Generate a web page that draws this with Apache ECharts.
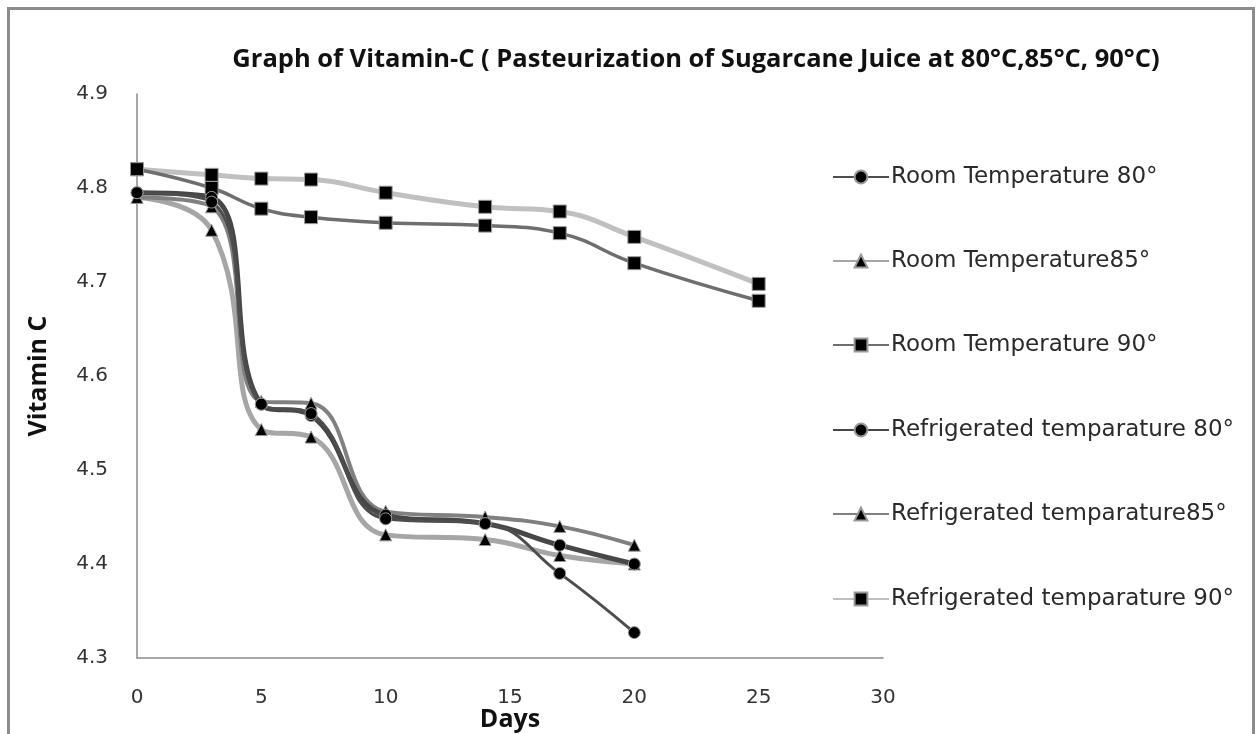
<!DOCTYPE html>
<html>
<head>
<meta charset="utf-8">
<script src="https://cdn.jsdelivr.net/npm/echarts@6/dist/echarts.min.js"></script>
<style>
html,body{margin:0;padding:0;background:#fff;}
#chart{width:1258px;height:734px;}
</style>
</head>
<body>
<div id="chart"></div>
<script>
// ---- data ----
const daysShort = [0, 3, 5, 7, 10, 14, 17, 20];
const daysLong = [0, 3, 5, 7, 10, 14, 17, 20, 25];
const room80 = [4.795, 4.785, 4.570, 4.560, 4.448, 4.443, 4.390, 4.327];
const room85 = [4.790, 4.755, 4.543, 4.535, 4.431, 4.426, 4.409, 4.400];
const room90 = [4.820, 4.800, 4.778, 4.769, 4.763, 4.760, 4.752, 4.720, 4.680];
const refrig80 = [4.795, 4.790, 4.570, 4.558, 4.452, 4.443, 4.420, 4.400];
const refrig85 = [4.790, 4.780, 4.573, 4.571, 4.456, 4.450, 4.440, 4.420];
const refrig90 = [4.820, 4.814, 4.810, 4.809, 4.795, 4.780, 4.775, 4.748, 4.698];
const seriesNames = [
  'Room Temperature 80°',
  'Room Temperature85°',
  'Room Temperature 90°',
  'Refrigerated temparature 80°',
  'Refrigerated temparature85°',
  'Refrigerated temparature 90°'
];
const xTicks = [0, 5, 10, 15, 20, 25, 30];
const yTicks = [4.3, 4.4, 4.5, 4.6, 4.7, 4.8, 4.9];
const titleText = 'Graph of Vitamin-C ( Pasteurization of Sugarcane Juice at 80°C,85°C, 90°C)';

function pairs(xs, ys) { return ys.map((v, i) => [xs[i], v]); }

const styles = [
  {color: '#4d4d4d', width: 3,   symbol: 'circle',   size: 12},
  {color: '#a6a6a6', width: 5,   symbol: 'triangle', size: 12},
  {color: '#6e6e6e', width: 3.5, symbol: 'rect',     size: 13},
  {color: '#474747', width: 5,   symbol: 'circle',   size: 12},
  {color: '#808080', width: 4,   symbol: 'triangle', size: 12},
  {color: '#c0c0c0', width: 5,   symbol: 'rect',     size: 13}
];
const dataSets = [
  pairs(daysShort, room80),
  pairs(daysShort, room85),
  pairs(daysLong, room90),
  pairs(daysShort, refrig80),
  pairs(daysShort, refrig85),
  pairs(daysLong, refrig90)
];
const drawOrder = [5, 2, 1, 4, 3, 0];

const series = drawOrder.map(i => ({
  name: seriesNames[i],
  type: 'line',
  data: dataSets[i],
  smooth: 0.45,
  symbol: styles[i].symbol,
  symbolSize: styles[i].size,
  showAllSymbol: true,
  lineStyle: {color: styles[i].color, width: styles[i].width},
  itemStyle: {color: '#000', borderColor: '#9a9a9a', borderWidth: 1},
  emphasis: {disabled: true},
  animation: false
}));

const legendCenters = [172, 256, 340, 425, 509, 594];
const legends = seriesNames.map((n, i) => ({
  data: [n],
  left: 827,
  top: legendCenters[i] - 14,
  itemWidth: 56,
  itemHeight: 16,
  itemGap: 0,
  selectedMode: false,
  textStyle: {fontFamily: 'DejaVu Sans', fontSize: 23, color: '#2a2a2a', lineHeight: 28, padding: [0, 0, 0, -3]}
}));

const chart = echarts.init(document.getElementById('chart'), null, {renderer: 'canvas'});
chart.setOption({
  backgroundColor: '#fff',
  animation: false,
  title: {
    text: titleText,
    left: 691,
    top: 42,
    textAlign: 'center',
    textStyle: {fontFamily: "'Open Sans'", fontWeight: 'bold', fontSize: 25.5, color: '#111'}
  },
  legend: legends,
  grid: {left: 137, top: 94, right: 375, bottom: 76, containLabel: false, outerBoundsMode: 'none'},
  xAxis: {
    type: 'value',
    min: 0, max: 30, interval: 5,
    name: 'Days',
    nameLocation: 'middle',
    nameGap: 49,
    nameMoveOverlap: false,
    nameTextStyle: {fontFamily: "'Open Sans'", fontWeight: 'bold', fontSize: 25, color: '#111'},
    axisLine: {show: true, lineStyle: {color: '#8a8a8a', width: 1.5}},
    axisTick: {show: false},
    splitLine: {show: false},
    axisLabel: {
      margin: 30, fontFamily: 'DejaVu Sans', fontSize: 20, color: '#333',
      formatter: v => xTicks.includes(v) ? String(v) : ''
    }
  },
  yAxis: {
    type: 'value',
    min: 4.3, max: 4.9, interval: 0.1,
    name: 'Vitamin C',
    nameLocation: 'middle',
    nameGap: 86,
    nameRotate: 90,
    nameMoveOverlap: false,
    nameTextStyle: {fontFamily: "'Open Sans'", fontWeight: 'bold', fontSize: 25, color: '#111'},
    axisLine: {show: true, lineStyle: {color: '#8a8a8a', width: 1.5}},
    axisTick: {show: false},
    splitLine: {show: false},
    axisLabel: {
      margin: 29, fontFamily: 'DejaVu Sans', fontSize: 20, color: '#333',
      formatter: v => {
        const r = Math.round(v * 10) / 10;
        return yTicks.includes(r) ? r.toFixed(1) : '';
      }
    }
  },
  graphic: [{
    type: 'rect',
    shape: {x: 8.5, y: 8.5, width: 1245, height: 760},
    style: {fill: 'none', stroke: '#8c8c8c', lineWidth: 3},
    silent: true,
    z: -10
  }],
  series: series
});
</script>
</body>
</html>
